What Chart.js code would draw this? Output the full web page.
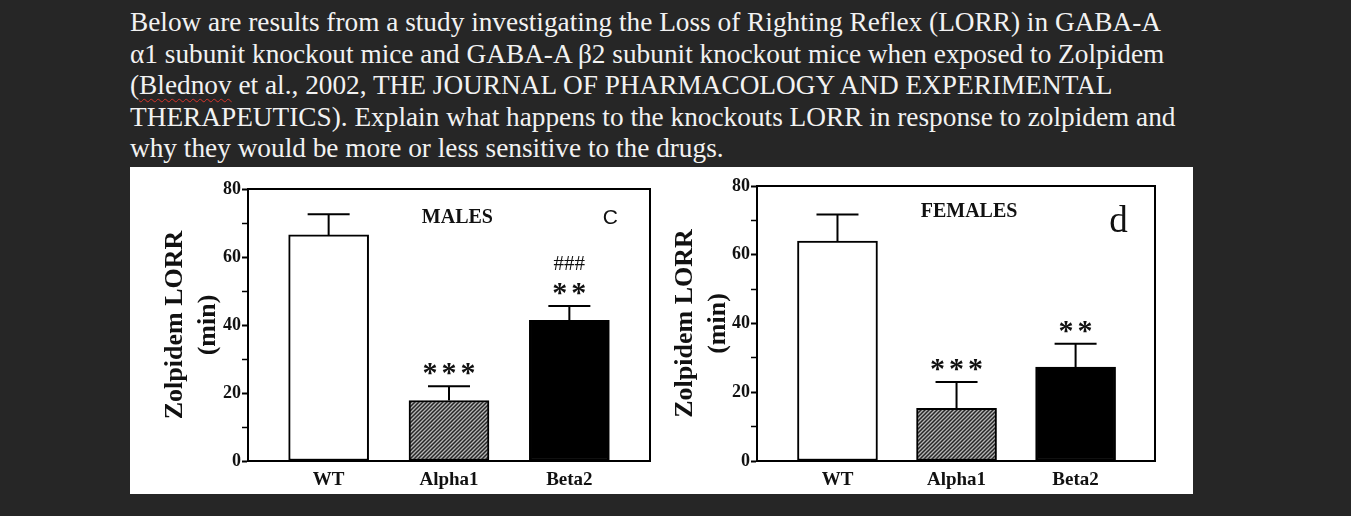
<!DOCTYPE html>
<html>
<head>
<meta charset="utf-8">
<title>Zolpidem LORR</title>
<script src="https://cdn.jsdelivr.net/npm/chart.js@4.4.1/dist/chart.umd.min.js"></script>
<style>
    html, body { margin: 0; background: #262626; }
    body { width: 1351px; height: 516px; position: relative; overflow: hidden; }
    #question {
        position: absolute; left: 130px; top: 7.3px;
        font: 27.3px "Liberation Serif", "Times New Roman", serif;
        line-height: 31.5px; color: #f2f2f2; white-space: nowrap;
    }
    .typo { text-decoration: underline wavy #d8352b; text-decoration-thickness: 1px; text-underline-offset: 4px; }
    #sheet { position: absolute; left: 130px; top: 167px; width: 1063px; height: 327px; background: #fff; }
    #sheet canvas { position: absolute; top: 0; }
    #males { left: 0; }
    #females { left: 530px; }
</style>
</head>
<body>
<div id="question">
    <div>Below are results from a study investigating the Loss of Righting Reflex (LORR) in GABA-A</div>
    <div>α1 subunit knockout mice and GABA-A β2 subunit knockout mice when exposed to Zolpidem</div>
    <div>(<span class="typo">Blednov</span> et al., 2002, THE JOURNAL OF PHARMACOLOGY AND EXPERIMENTAL</div>
    <div>THERAPEUTICS). Explain what happens to the knockouts LORR in response to zolpidem and</div>
    <div>why they would be more or less sensitive to the drugs.</div>
</div>
<div id="sheet">
    <canvas id="males" width="530" height="327"></canvas>
    <canvas id="females" width="533" height="327"></canvas>
</div>
<script>
// ---- data ----
const categories = ['WT', 'Alpha1', 'Beta2'];
const yTickLabels = [0, 20, 40, 60, 80];
const maleMeans = [66.5, 17.8, 41.4];
const maleErrors = [6.1, 4.2, 4.2];
const maleMarks = [[], ['***'], ['###', '**']];
const femaleMeans = [64.0, 15.3, 27.3];
const femaleErrors = [7.7, 7.7, 6.8];
const femaleMarks = [[], ['***'], ['**']];

const SERIF = '"Liberation Serif", "Times New Roman", serif';

// diagonal hatch used for the Alpha1 bars
const makeHatch = () => {
    const c = document.createElement('canvas');
    c.width = 4; c.height = 4;
    const g = c.getContext('2d');
    g.fillStyle = '#b4b4b4';
    g.fillRect(0, 0, 4, 4);
    g.strokeStyle = '#262626';
    g.lineWidth = 1.5;
    g.beginPath();
    g.moveTo(-1, 5); g.lineTo(5, -1);
    g.moveTo(-1, 1); g.lineTo(1, -1);
    g.moveTo(3, 5); g.lineTo(5, 3);
    g.stroke();
    return g.createPattern(c, 'repeat');
};

// error bars (upper half only) + significance marks
const errorBarPlugin = {
    id: 'errorBars',
    afterDatasetsDraw(chart, args, opts) {
        const { ctx, scales: { y } } = chart;
        const bars = chart.getDatasetMeta(0).data;
        const values = chart.data.datasets[0].data;
        ctx.save();
        bars.forEach((bar, i) => {
            const top = y.getPixelForValue(values[i].y + opts.errors[i]);
            ctx.strokeStyle = '#000';
            ctx.lineWidth = 2;
            ctx.beginPath();
            ctx.moveTo(bar.x, bar.y);
            ctx.lineTo(bar.x, top);
            ctx.moveTo(bar.x - 21, top);
            ctx.lineTo(bar.x + 21, top);
            ctx.stroke();

            // marks stack upward from the cap, nearest first
            const lines = opts.marks[i].slice().reverse();
            let cy = top - 17;
            lines.forEach(txt => {
                const hash = txt.includes('#');
                ctx.font = hash ? `21px ${SERIF}` : `bold 30px ${SERIF}`;
                ctx.letterSpacing = hash ? '0px' : '4px';
                ctx.textAlign = 'center';
                ctx.textBaseline = 'alphabetic';
                ctx.fillStyle = '#111';
                const m = ctx.measureText(txt);
                const off = (m.actualBoundingBoxAscent - m.actualBoundingBoxDescent) / 2;
                ctx.fillText(txt, bar.x + (hash ? 0 : 2), cy + off);
                cy -= 26;
            });
        });
        ctx.restore();
    }
};

// frame around the plot + panel captions
const framePlugin = {
    id: 'frame',
    afterDraw(chart, args, opts) {
        const { ctx, chartArea: a, scales: { x, y } } = chart;
        ctx.save();
        ctx.strokeStyle = '#000';
        ctx.lineWidth = 2;
        ctx.strokeRect(a.left, a.top, a.right - a.left, a.bottom - a.top);
        ctx.fillStyle = '#111';
        ctx.textAlign = 'center';
        ctx.textBaseline = 'middle';
        opts.labels.forEach(l => {
            ctx.font = l.font;
            ctx.fillText(l.text, x.getPixelForValue(l.x), y.getPixelForValue(l.y));
        });
        ctx.restore();
    }
};

const buildChart = (id, means, errors, marks, layout) => {
    const ctx = document.getElementById(id).getContext('2d');
    return new Chart(ctx, {
        type: 'bar',
        data: {
            datasets: [{
                data: means.map((v, i) => ({ x: i, y: v })),
                backgroundColor: ['#ffffff', makeHatch(), '#000000'],
                borderColor: '#000',
                borderWidth: 2,
                borderSkipped: false,
                barThickness: 80
            }]
        },
        options: {
            responsive: false,
            animation: false,
            devicePixelRatio: 1,
            layout: { padding: { top: layout.top, right: layout.right, bottom: 0, left: 0 } },
            plugins: {
                legend: { display: false },
                tooltip: { enabled: false },
                errorBars: { errors, marks },
                frame: { labels: layout.labels }
            },
            scales: {
                x: {
                    type: 'linear',
                    offset: false,
                    min: layout.xMin,
                    max: layout.xMax,
                    afterBuildTicks: s => { s.ticks = categories.map((c, i) => ({ value: i })); },
                    afterFit: s => { s.height = 33; },
                    ticks: {
                        callback: v => categories[v],
                        color: '#111',
                        padding: 8,
                        font: { family: SERIF, size: 19, weight: 'bold' }
                    },
                    grid: { display: false, drawTicks: false },
                    border: { color: '#000', width: 2 }
                },
                y: {
                    min: 0,
                    max: 80,
                    afterFit: s => { s.width = layout.yWidth; },
                    ticks: {
                        stepSize: 10,
                        padding: 1,
                        color: '#111',
                        callback: v => (yTickLabels.includes(v) ? v : ''),
                        font: { family: SERIF, size: 18, weight: 'bold' }
                    },
                    grid: {
                        drawOnChartArea: false,
                        tickLength: 6,
                        tickColor: '#000',
                        tickWidth: c => (c.tick && yTickLabels.includes(c.tick.value) ? 2 : 1.5)
                    },
                    border: { color: '#000', width: 2 },
                    title: {
                        display: true,
                        text: ['Zolpidem LORR', '(min)'],
                        color: '#111',
                        padding: { top: layout.titlePad, bottom: 0 },
                        font: { family: SERIF, size: 26, weight: 'bold', lineHeight: 1.27 }
                    }
                }
            }
        },
        plugins: [errorBarPlugin, framePlugin]
    });
};

buildChart('males', maleMeans, maleErrors, maleMarks, {
    top: 22, right: 10, yWidth: 118, titlePad: 28.5, xMin: -0.67, xMax: 2.67,
    labels: [
        { text: 'MALES', x: 1.07, y: 71.5, font: `bold 20px ${SERIF}` },
        { text: 'C', x: 2.34, y: 71.5, font: '21px "Liberation Sans", Arial, sans-serif' }
    ]
});

buildChart('females', femaleMeans, femaleErrors, femaleMarks, {
    top: 19, right: 38, yWidth: 97, titlePad: 8.5, xMin: -0.676, xMax: 2.667,
    labels: [
        { text: 'FEMALES', x: 1.105, y: 72.5, font: `bold 20px ${SERIF}` },
        { text: 'd', x: 2.36, y: 69.5, font: `37px ${SERIF}` }
    ]
});
</script>
</body>
</html>
